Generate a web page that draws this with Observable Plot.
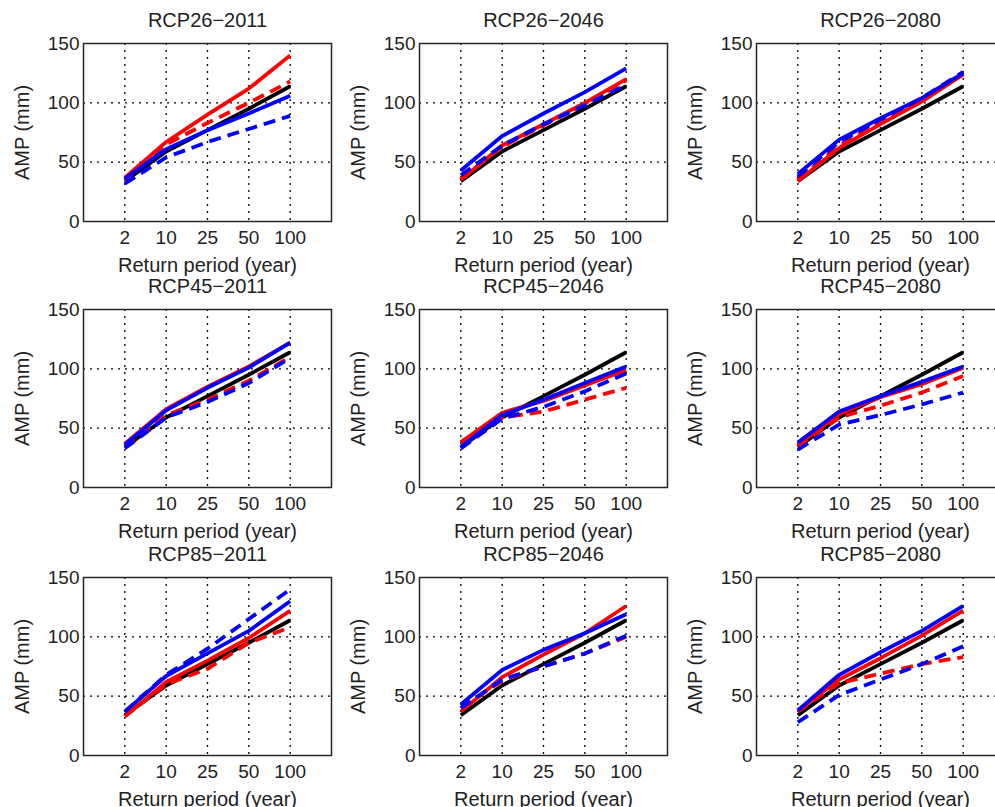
<!DOCTYPE html>
<html><head><meta charset="utf-8">
<script src="https://cdn.jsdelivr.net/npm/d3@7"></script>
<script src="https://cdn.jsdelivr.net/npm/@observablehq/plot@0.6"></script>
<style>
body{margin:0;background:#fff;overflow:hidden;}
#wrap{position:relative;width:995px;height:807px;overflow:hidden;background:#fff;}
.panel{position:absolute;width:336px;height:266px;}
.panel svg{background:transparent !important;}
</style></head><body><div id="wrap"></div>
<script>
const PANELS = ["RCP26−2011","RCP26−2046","RCP26−2080","RCP45−2011","RCP45−2046","RCP45−2080","RCP85−2011","RCP85−2046","RCP85−2080"];
const X_TICKS = [1,2,3,4,5];
const X_LABELS = ["2","10","25","50","100"];
const Y_TICKS = [0,50,100,150];
const X_TITLE = "Return period (year)";
const Y_TITLE = "AMP (mm)";

const BLACK = [34, 59, 77, 95, 114];
const RED_SOLID = [
  [37,67,90,112,140],[35,64,82,100,120],[34,62,82,101,124],
  [37,66,85,102,122],[38,63,73,86,99],[36,62,76,87,101],
  [33,62,80,99,122],[37,66,85,103,126],[38,64,82,101,122]];
const RED_DASHED = [
  [35,65,83,100,118],[36,63,81,99,119],[35,64,84,102,124],
  [35,61,74,90,110],[38,59,64,74,84],[35,59,69,80,94],
  [33,60,73,95,108],[40,63,75,86,100],[37,61,69,77,83]];
const BLUE_SOLID = [
  [36,61,77,91,106],[43,72,91,109,129],[40,69,87,104,125],
  [36,65,84,101,122],[34,61,74,88,102],[38,64,77,89,102],
  [37,67,86,105,130],[43,72,89,103,119],[38,68,87,105,126]];
const BLUE_DASHED = [
  [32,54,67,78,89],[39,64,82,98,115],[38,67,86,104,126],
  [33,59,72,88,109],[33,58,68,81,96],[32,53,61,70,80],
  [37,68,90,115,140],[40,64,75,86,101],[28,51,64,77,92]];

const SERIES = [
  {key:"black", values: PANELS.map(()=>BLACK), stroke:"#000000", dash:null},
  {key:"redSolid", values: RED_SOLID, stroke:"#ff0000", dash:null},
  {key:"redDashed", values: RED_DASHED, stroke:"#ff0000", dash:"12,7"},
  {key:"blueSolid", values: BLUE_SOLID, stroke:"#0000ff", dash:null},
  {key:"blueDashed", values: BLUE_DASHED, stroke:"#0000ff", dash:"12,7"}
];

const COL_LEFT = [0, 336, 673];
const ROW_TOP = [0, 266, 534];
const wrap = document.getElementById("wrap");
const FONT = "'Liberation Sans', Arial, Helvetica, sans-serif";

PANELS.forEach((title, i) => {
  const lineMarks = SERIES.map(s => {
    const rows = s.values[i].map((v, j) => ({x: X_TICKS[j], y: v}));
    return Plot.line(rows, {x:"x", y:"y", stroke:s.stroke, strokeWidth:3.8,
      strokeDasharray: s.dash || undefined, strokeLinecap:"butt", strokeLinejoin:"round"});
  });
  const chart = Plot.plot({
    width:336, height:266,
    marginLeft:83, marginRight:5, marginTop:43, marginBottom:45,
    x:{domain:[0,6]},
    y:{domain:[0,150]},
    style:{fontFamily:FONT, fontSize:"19px", color:"#222", background:"transparent", overflow:"visible"},
    marks:[
      Plot.gridX(X_TICKS, {stroke:"#000", strokeOpacity:1, strokeWidth:1.3, strokeDasharray:"2,5"}),
      Plot.gridY([50,100], {stroke:"#000", strokeOpacity:1, strokeWidth:1.3, strokeDasharray:"2,5"}),
      Plot.axisX(X_TICKS, {tickSize:0, tickPadding:9, tickFormat:d => X_LABELS[d-1], fontSize:19, label:null}),
      Plot.axisY(Y_TICKS, {tickSize:0, tickPadding:4, fontSize:19, label:null}),
      ...lineMarks,
      Plot.frame({stroke:"#262626", strokeWidth:1.5}),
      Plot.text([title], {frameAnchor:"top", dy:-23, text:d=>d, textAnchor:"middle", lineAnchor:"middle", fontSize:20}),
      Plot.text([Y_TITLE], {frameAnchor:"left", dx:-61, rotate:-90, text:d=>d, textAnchor:"middle", lineAnchor:"middle", fontSize:20}),
      Plot.text([X_TITLE], {frameAnchor:"bottom", dy:44, text:d=>d, textAnchor:"middle", lineAnchor:"middle", fontSize:20})
    ]
  });
  const div = document.createElement("div");
  div.className = "panel";
  div.style.left = COL_LEFT[i % 3] + "px";
  div.style.top = ROW_TOP[Math.floor(i / 3)] + "px";
  div.appendChild(chart);
  wrap.appendChild(div);
});
</script></body></html>
